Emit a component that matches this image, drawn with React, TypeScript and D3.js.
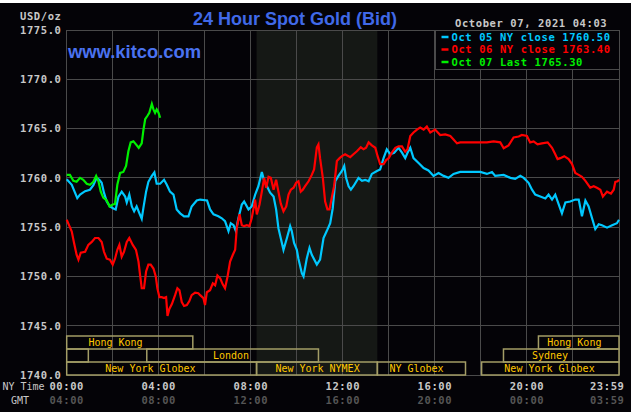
import React from 'react';
import * as d3 from 'd3';

const W = 631;
const H = 414;

// [hour of NY day, price]
const oct05: [number, number][] = [
  [0, 1759.85], [0.22, 1759.3], [0.46, 1757.95], [0.58, 1758.3], [0.8, 1758.65], [1.01, 1758.8], [1.16, 1759.25],
  [1.3, 1760.0], [1.42, 1759.8], [1.52, 1759.5], [1.62, 1758.5], [1.74, 1757.6], [1.88, 1757.1], [2.03, 1756.9],
  [2.13, 1756.8], [2.25, 1758.1], [2.39, 1758.6], [2.54, 1758.1], [2.61, 1757.5], [2.72, 1758.3], [2.83, 1757.1],
  [2.93, 1756.6], [3.04, 1757.1], [3.16, 1756.4], [3.26, 1755.85], [3.33, 1756.9], [3.45, 1758.6], [3.55, 1759.6],
  [3.7, 1760.2], [3.81, 1760.55], [3.91, 1759.4], [4.06, 1759.4], [4.23, 1759.8], [4.35, 1759.3], [4.49, 1758.6],
  [4.64, 1758.3], [4.78, 1756.8], [4.93, 1756.4], [5.1, 1756.1], [5.29, 1756.1], [5.43, 1757.1], [5.65, 1757.7],
  [5.8, 1757.8], [6.1, 1757.7], [6.23, 1756.8], [6.38, 1756.3], [6.59, 1756.1], [6.74, 1755.9], [6.88, 1755.6],
  [7.03, 1754.6], [7.13, 1755.4], [7.25, 1755.2], [7.35, 1754.6], [7.46, 1755.9], [7.61, 1757.3], [7.71, 1757.6],
  [7.9, 1756.8], [8.04, 1757.1], [8.19, 1758.3], [8.33, 1759.15], [8.48, 1760.6], [8.58, 1759.7], [8.7, 1759.15],
  [8.84, 1758.5], [8.99, 1758.1], [9.1, 1756.8], [9.2, 1754.9], [9.3, 1753.9], [9.42, 1752.7], [9.57, 1753.9],
  [9.71, 1755.1], [9.78, 1754.6], [9.88, 1753.4], [10.0, 1752.7], [10.07, 1751.8], [10.22, 1750.3], [10.29, 1750.0],
  [10.43, 1751.8], [10.55, 1752.9], [10.65, 1752.2], [10.87, 1751.2], [11.01, 1751.7], [11.16, 1753.9], [11.3, 1754.6],
  [11.45, 1755.4], [11.56, 1756.9], [11.67, 1759.65], [11.81, 1760.2], [11.96, 1760.7], [12.06, 1761.2], [12.14, 1760.0],
  [12.25, 1759.15], [12.35, 1758.8], [12.46, 1759.15], [12.68, 1760.0], [12.83, 1759.7], [12.97, 1759.8], [13.12, 1759.65],
  [13.26, 1760.4], [13.48, 1760.7], [13.62, 1760.85], [13.77, 1762.0], [13.91, 1762.9], [14.06, 1762.4], [14.23, 1762.55],
  [14.42, 1763.05], [14.57, 1762.55], [14.71, 1762.0], [14.81, 1762.55], [14.93, 1763.05], [15.07, 1762.0], [15.29, 1761.5],
  [15.51, 1761.0], [15.72, 1760.75], [15.94, 1760.2], [16.16, 1760.5], [16.38, 1760.2], [16.59, 1760.0], [16.81, 1760.4],
  [17.1, 1760.6], [17.54, 1760.6], [17.97, 1760.6], [18.26, 1760.4], [18.48, 1760.6], [18.62, 1760.2], [18.99, 1760.3],
  [19.28, 1760.0], [19.49, 1759.9], [19.71, 1760.2], [19.86, 1760.0], [20.07, 1759.5], [20.22, 1758.8], [20.36, 1758.3],
  [20.58, 1758.1], [20.8, 1757.9], [20.94, 1758.3], [21.09, 1757.8], [21.23, 1758.3], [21.38, 1757.3], [21.52, 1756.4],
  [21.67, 1757.5], [21.88, 1757.6], [22.1, 1757.8], [22.25, 1757.8], [22.39, 1756.1], [22.54, 1757.7], [22.68, 1757.1],
  [22.83, 1755.9], [22.97, 1754.8], [23.12, 1755.3], [23.26, 1755.2], [23.48, 1754.95], [23.7, 1755.2], [23.91, 1755.4],
  [24.0, 1755.75],
];

const oct06: [number, number][] = [
  [0, 1755.75], [0.12, 1755.1], [0.22, 1754.55], [0.32, 1753.4], [0.43, 1752.2], [0.51, 1751.7], [0.61, 1752.4],
  [0.8, 1752.5], [0.94, 1753.2], [1.09, 1753.5], [1.23, 1753.9], [1.38, 1753.9], [1.52, 1753.5], [1.62, 1752.5],
  [1.74, 1751.8], [1.88, 1751.7], [2.0, 1751.2], [2.1, 1751.8], [2.2, 1752.7], [2.29, 1753.2], [2.39, 1752.0],
  [2.49, 1752.5], [2.61, 1753.5], [2.72, 1753.9], [2.87, 1753.2], [3.01, 1752.7], [3.12, 1751.5], [3.19, 1750.1],
  [3.26, 1748.8], [3.36, 1748.8], [3.45, 1750.5], [3.55, 1751.2], [3.65, 1751.2], [3.77, 1750.8], [3.87, 1750.0],
  [3.94, 1748.8], [4.03, 1747.9], [4.13, 1747.9], [4.23, 1747.8], [4.32, 1747.9], [4.38, 1746.0], [4.46, 1746.7],
  [4.57, 1747.2], [4.71, 1748.1], [4.81, 1748.8], [4.9, 1748.6], [5.0, 1747.4], [5.1, 1747.0], [5.22, 1747.1],
  [5.33, 1747.5], [5.43, 1748.1], [5.58, 1748.35], [5.72, 1748.3], [5.8, 1748.1], [5.94, 1747.8], [6.01, 1747.1],
  [6.09, 1748.4], [6.23, 1748.6], [6.35, 1749.3], [6.45, 1749.1], [6.55, 1750.1], [6.67, 1749.8], [6.78, 1749.2],
  [6.88, 1748.8], [6.99, 1750.0], [7.1, 1751.5], [7.22, 1752.2], [7.32, 1752.7], [7.39, 1754.9], [7.51, 1756.3],
  [7.61, 1755.2], [7.71, 1755.1], [7.83, 1755.2], [7.94, 1755.1], [8.04, 1755.9], [8.12, 1756.9], [8.19, 1757.8],
  [8.26, 1756.3], [8.38, 1757.3], [8.48, 1758.6], [8.58, 1760.0], [8.67, 1759.0], [8.77, 1760.1], [8.87, 1760.0],
  [8.99, 1758.8], [9.1, 1759.8], [9.2, 1758.6], [9.3, 1757.4], [9.42, 1756.6], [9.54, 1757.1], [9.64, 1758.3],
  [9.74, 1758.8], [9.86, 1759.0], [9.97, 1759.5], [10.07, 1759.65], [10.17, 1758.6], [10.26, 1758.8], [10.36, 1759.15],
  [10.51, 1759.65], [10.65, 1760.3], [10.75, 1760.85], [10.87, 1763.1], [10.94, 1763.4], [11.01, 1762.0], [11.13, 1760.0],
  [11.23, 1757.6], [11.33, 1756.8], [11.42, 1756.8], [11.52, 1758.0], [11.62, 1759.15], [11.74, 1761.7], [11.86, 1762.0],
  [11.96, 1762.2], [12.1, 1762.4], [12.32, 1762.1], [12.46, 1762.4], [12.61, 1762.7], [12.78, 1763.1], [12.9, 1762.9],
  [13.01, 1763.05], [13.12, 1763.6], [13.26, 1763.3], [13.41, 1763.05], [13.51, 1762.2], [13.62, 1761.4], [13.77, 1761.4],
  [13.88, 1761.8], [13.99, 1762.0], [14.13, 1762.55], [14.28, 1763.05], [14.42, 1763.2], [14.57, 1763.2], [14.71, 1762.65],
  [14.81, 1762.9], [14.93, 1764.25], [15.07, 1764.6], [15.22, 1764.9], [15.36, 1765.1], [15.51, 1764.9], [15.65, 1765.2],
  [15.8, 1764.6], [16.01, 1764.9], [16.23, 1764.35], [16.45, 1764.4], [16.67, 1764.25], [16.81, 1763.9], [16.96, 1763.5],
  [17.1, 1763.6], [17.54, 1763.6], [17.97, 1763.6], [18.26, 1763.6], [18.55, 1763.7], [18.84, 1763.6], [18.99, 1763.0],
  [19.2, 1763.3], [19.42, 1764.1], [19.64, 1764.2], [19.78, 1764.35], [20.0, 1764.25], [20.14, 1763.6], [20.29, 1763.7],
  [20.46, 1763.4], [20.65, 1763.5], [20.9, 1763.6], [21.09, 1763.05], [21.23, 1762.4], [21.33, 1761.9], [21.45, 1762.0],
  [21.62, 1762.2], [21.81, 1761.9], [21.96, 1761.4], [22.1, 1760.5], [22.25, 1760.3], [22.39, 1760.1], [22.54, 1759.7],
  [22.75, 1759.0], [22.9, 1759.15], [23.04, 1759.0], [23.19, 1758.8], [23.3, 1758.1], [23.48, 1758.6], [23.65, 1758.4],
  [23.77, 1758.8], [23.84, 1759.6], [23.94, 1759.65], [24.0, 1759.8],
];

const oct07: [number, number][] = [
  [0, 1760.3], [0.14, 1760.3], [0.29, 1759.7], [0.43, 1759.6], [0.58, 1760.0], [0.72, 1759.8], [0.87, 1759.4],
  [1.01, 1759.3], [1.16, 1759.6], [1.28, 1760.2], [1.38, 1759.65], [1.48, 1758.6], [1.59, 1758.0], [1.74, 1757.7],
  [1.86, 1757.1], [2.0, 1757.3], [2.1, 1757.35], [2.2, 1759.3], [2.32, 1760.5], [2.46, 1760.6], [2.58, 1761.2],
  [2.68, 1762.7], [2.78, 1763.6], [2.9, 1763.7], [3.01, 1763.4], [3.13, 1763.05], [3.26, 1763.5], [3.33, 1764.8],
  [3.41, 1765.95], [3.51, 1766.3], [3.59, 1766.6], [3.7, 1767.5], [3.77, 1766.95], [3.84, 1766.6], [3.91, 1766.95],
  [3.99, 1766.6], [4.06, 1766.1],
];

const yTicks = [1740, 1745, 1750, 1755, 1760, 1765, 1770, 1775];
const gridHours = [0, 2, 4, 6, 8, 10, 12, 14, 16, 18, 20, 22, 24];
const axisHours = [0, 4, 8, 12, 16, 20, 24];
const nyLabels = ['00:00', '04:00', '08:00', '12:00', '16:00', '20:00', '23:59'];
const gmtLabels = ['04:00', '08:00', '12:00', '16:00', '20:00', '00:00', '03:59'];

const legendLabels = ['Oct 05 NY close 1760.50', 'Oct 06 NY close 1763.40', 'Oct 07 Last 1765.30'];
const seriesColors = ['#00c8ff', '#ff0000', '#00f000'];

const nymexHours: [number, number] = [8.25, 13.5];

// [row, start hour, end hour, label, label centre hour]
const sessions: [number, number, number, string, number][] = [
  [0, 0, 5.48, 'Hong Kong', 2.12],
  [0, 20.5, 24, 'Hong Kong', 22.06],
  [1, 0, 0.94, '', 0],
  [1, 3.48, 10.94, 'London', 7.14],
  [1, 18.98, 24, 'Sydney', 21.0],
  [2, 0, 8.25, 'New York Globex', 3.64],
  [2, 8.25, 13.5, 'New York NYMEX', 10.9],
  [2, 13.5, 17.33, 'NY Globex', 15.2],
  [2, 18.03, 24, 'New York Globex', 20.98],
];

const MONO = '"DejaVu Sans Mono", monospace';
const SANS = '"Liberation Sans", Arial, sans-serif';

export default function App() {
  const left = 66.7, right = 619, top = 30, bottom = 375;
  const x = d3.scaleLinear().domain([0, 24]).range([left, right]);
  const y = d3.scaleLinear().domain([1740, 1775]).range([bottom, top]);
  const line = d3.line<[number, number]>().x(d => x(d[0])).y(d => y(d[1]));
  const series = [oct05, oct06, oct07];
  const rowTop = [336, 349, 362];
  const rowH = 13;
  const grid = '#4a4a4a';
  const labelStyle = { fontFamily: MONO, fontSize: 10.5, fontWeight: 700, letterSpacing: 0.6 } as const;

  return (
    <svg width={W} height={H} style={{ position: 'fixed', left: 0, top: 0, background: '#fff' }}>
      <rect x={0} y={3} width={W} height={409} fill="#040307" />
      <rect x={x(nymexHours[0])} y={top} width={x(nymexHours[1]) - x(nymexHours[0])} height={bottom - top} fill="#151815" />
      <g shapeRendering="crispEdges">
        {yTicks.map(t => (
          <line key={'h' + t} x1={left} x2={right} y1={y(t)} y2={y(t)} stroke={grid} strokeWidth={1} />
        ))}
        {gridHours.map(h => (
          <line key={'v' + h} x1={x(h)} x2={x(h)} y1={top} y2={bottom} stroke={grid} strokeWidth={1} />
        ))}
      </g>
      {/* session bars */}
      {sessions.map(([row, s, e, label, c], i) => (
        <g key={'s' + i}>
          <rect x={x(s)} y={rowTop[row]} width={x(e) - x(s)} height={rowH} fill="none" stroke="#a39d66" strokeWidth={1.5} />
          {label && (
            <text x={x(c)} y={rowTop[row] + rowH / 2 + 3.7} textAnchor="middle" fill="#ffc800"
              style={{ fontFamily: MONO, fontSize: 10 }}>{label}</text>
          )}
        </g>
      ))}
      {/* price lines */}
      {series.map((d, i) => (
        <path key={'l' + i} d={line(d) || ''} fill="none" stroke={seriesColors[i]} strokeWidth={2.2} strokeLinejoin="miter" />
      ))}
      {/* legend */}
      <rect x={435} y={top} width={right - 435} height={39} fill="#040307" stroke={grid} strokeWidth={1} shapeRendering="crispEdges" />
      {legendLabels.map((l, i) => (
        <g key={'lg' + i}>
          <line x1={441.5} x2={448.5} y1={37 + i * 12.5} y2={37 + i * 12.5} stroke={seriesColors[i]} strokeWidth={2.5} />
          <text x={451.5} y={37 + i * 12.5 + 3.8} fill={seriesColors[i]} style={labelStyle}>{l}</text>
        </g>
      ))}
      {/* y axis labels */}
      <text x={20} y={16 + 3.8} fill="#c8c8c8" style={labelStyle}>USD/oz</text>
      {yTicks.map(t => (
        <text key={'yl' + t} x={61.5} y={y(t) + 3.8} textAnchor="end" fill="#c8c8c8" style={labelStyle}>
          {d3.format('.1f')(t)}
        </text>
      ))}
      {/* x axis labels */}
      <text x={2.5} y={386 + 3.7} fill="#c8c8c8" style={{ fontFamily: MONO, fontSize: 10 }}>NY Time</text>
      <text x={11} y={400 + 3.7} fill="#c8c8c8" style={{ fontFamily: MONO, fontSize: 10 }}>GMT</text>
      {axisHours.map((h, i) => {
        const last = i === axisHours.length - 1;
        return (
          <g key={'xl' + i}>
            <text x={last ? x(h) + 5.5 : x(h)} y={386 + 3.8} textAnchor={last ? 'end' : 'middle'} fill="#c8c8c8" style={labelStyle}>
              {nyLabels[i]}
            </text>
            <text x={last ? x(h) + 5.5 : x(h)} y={400 + 3.8} textAnchor={last ? 'end' : 'middle'} fill="#555555" style={labelStyle}>
              {gmtLabels[i]}
            </text>
          </g>
        );
      })}
      {/* titles */}
      <text x={295} y={25} textAnchor="middle" fill="#4069e8" style={{ fontFamily: SANS, fontSize: 18, fontWeight: 700 }}>
        24 Hour Spot Gold (Bid)
      </text>
      <text x={68} y={58} fill="#4a72f0" style={{ fontFamily: SANS, fontSize: 18.4, fontWeight: 700 }}>www.kitco.com</text>
      <text x={455} y={23 + 3.8} fill="#c8c8c8" style={labelStyle}>October 07, 2021 04:03</text>
    </svg>
  );
}
